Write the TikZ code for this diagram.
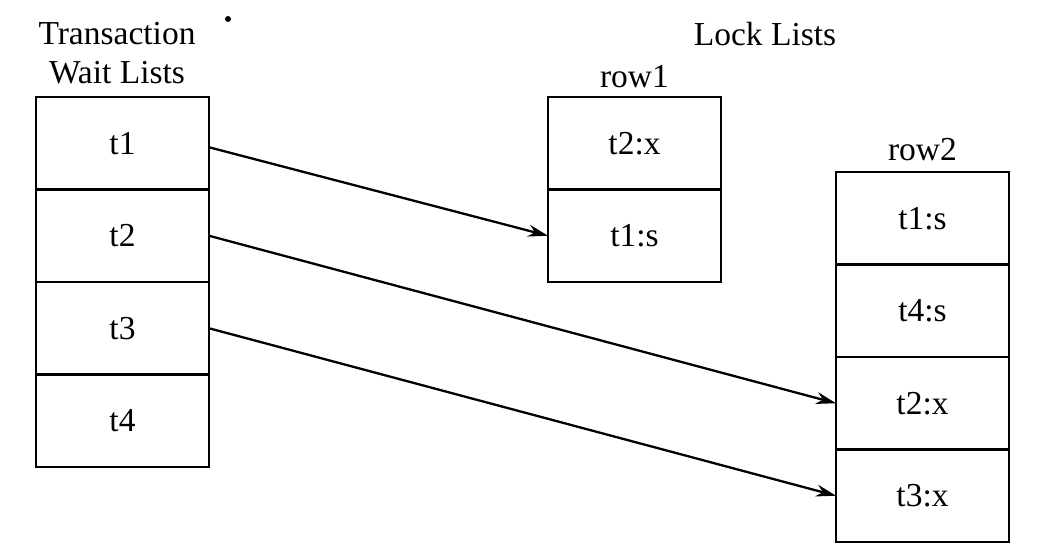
\documentclass[tikz,border=0pt]{standalone}
\usepackage{fontspec}
\setmainfont{Liberation Serif}
\usetikzlibrary{positioning,arrows.meta}
\tikzset{
  cell/.style={draw, line width=2.8pt, minimum width=173pt, minimum height=92.5pt,
    outer sep=0pt, inner sep=0pt, font=\fontsize{33.5}{40}\selectfont},
  title/.style={inner sep=0pt, font=\fontsize{33.5}{40}\selectfont},
  link/.style={line width=2.3pt, -{Stealth[length=20pt,width=12pt]}}
}
\begin{document}
\begin{tikzpicture}[x=1pt,y=-1pt]
  \useasboundingbox (0,0) rectangle (1038,554);

  % Wait lists
  \node[cell, anchor=north west] (t1) at (36,97) {t1};
  \node[cell, below=0pt of t1] (t2) {t2};
  \node[cell, below=0pt of t2] (t3) {t3};
  \node[cell, below=0pt of t3] (t4) {t4};
  \node[title, anchor=base] (wtop) at (117,44) {Transaction};
  \node[title, anchor=base] (wbot) at (117,83) {Wait Lists};

  % Lock lists
  \node[title, anchor=base] (locks) at (765,45) {Lock Lists};
  \node[cell, anchor=north west] (ra) at (548,97) {t2:x};
  \node[cell, below=0pt of ra] (rb) {t1:s};
  \node[title, above=9pt of ra] (rowa) {row1};
  \node[cell, anchor=north west] (sa) at (836,172) {t1:s};
  \node[cell, below=0pt of sa] (sb) {t4:s};
  \node[cell, below=0pt of sb] (sc) {t2:x};
  \node[cell, below=0pt of sc] (sd) {t3:x};
  \node[title, above=11pt of sa] (rowb) {row2};

  % stray dot
  \fill (228,19) circle[radius=3pt];

  % Waits
  \draw[link] ([yshift=-4pt]t1.east) -- (rb.west);
  \draw[link] (t2.east) -- (sc.west);
  \draw[link] (t3.east) -- (sd.west);

\end{tikzpicture}
\end{document}
